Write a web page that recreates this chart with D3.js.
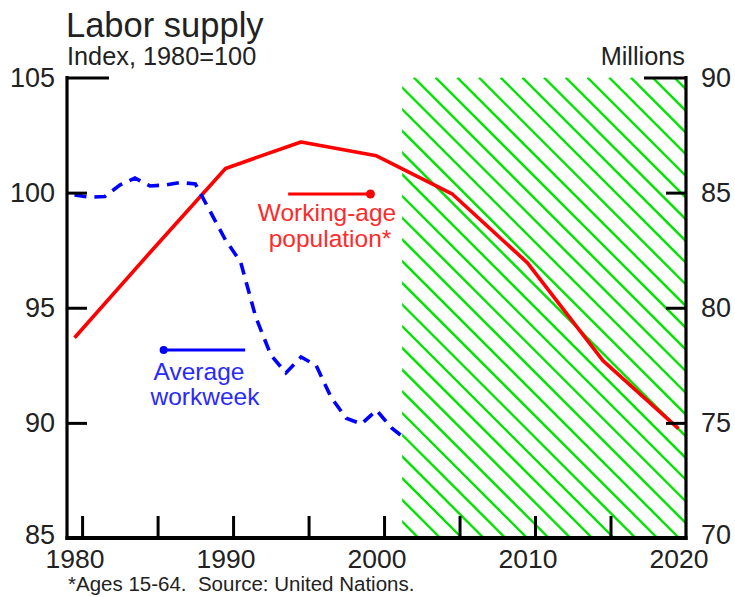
<!DOCTYPE html>
<html>
<head>
<meta charset="utf-8">
<script src="https://cdn.jsdelivr.net/npm/d3@7"></script>
<style>
  html, body { margin: 0; padding: 0; background: #fff; }
  text { font-family: "Liberation Sans", Arial, sans-serif; }
</style>
</head>
<body>
<svg id="chart" width="735" height="597"></svg>
<script>
// ---------- data ----------
const workweekYears = [1980,1981,1982,1983,1984,1985,1986,1987,1988,1989,1990,1991,1992,1993,1994,1995,1996,1997,1998,1999,2000,2001,2002];
const workweekIndex = [99.9,99.8,99.83,100.33,100.63,100.29,100.33,100.44,100.38,99.16,97.94,96.99,94.6,92.95,92.17,92.86,92.5,91.1,90.2,89.95,90.55,89.78,89.26];

const popYears = [1980,1985,1990,1995,2000,2005,2010,2015,2020];
const popMillions = [78.7,82.4,86.05,87.2,86.6,84.95,81.95,77.7,74.75];

const forecastStart = 2001.7;
const forecastEnd = 2020.5;

const leftTicks = [85,90,95,100,105];
const rightTicks = [70,75,80,85,90];
const xLabelYears = [1980,1990,2000,2010,2020];
const xTickYears = [1980.5,1985.5,1990.5,1995.5,2000.5,2005.5,2010.5,2015.5];

// ---------- layout ----------
const svg = d3.select("#chart");
const L = 67, R = 686, T = 77.5, B = 538;
const x = d3.scaleLinear().domain([1979.5, 2020.5]).range([L, R]);
const yL = d3.scaleLinear().domain([85, 105]).range([B, T]);
const yR = d3.scaleLinear().domain([70, 90]).range([B, T]);
const FONT = "Liberation Sans, Arial, sans-serif";
const TXT = "#222";

// ---------- hatch (forecast region) ----------
const hx0 = x(forecastStart), hx1 = x(forecastEnd);
svg.append("clipPath").attr("id", "hclip")
  .append("rect").attr("x", hx0).attr("y", T).attr("width", hx1 - hx0).attr("height", B - T);
const step = 21.7, phase = 336.3;
const cMin = hx0 - B, cMax = hx1 - T;
const kStart = Math.floor((cMin - phase) / step), kEnd = Math.ceil((cMax - phase) / step);
const cs = d3.range(kStart, kEnd + 1).map(k => phase + k * step);
svg.append("g").attr("clip-path", "url(#hclip)")
  .selectAll("line").data(cs).join("line")
  .attr("x1", c => c + T).attr("y1", T)
  .attr("x2", c => c + B).attr("y2", B)
  .attr("stroke", "#00e400").attr("stroke-width", 2.4);

// ---------- series ----------
const popLine = d3.line().x(d => x(d[0])).y(d => yR(d[1]));
svg.append("path")
  .datum(popYears.map((yr, i) => [yr, popMillions[i]]))
  .attr("d", popLine).attr("fill", "none")
  .attr("stroke", "#ff0000").attr("stroke-width", 3.6).attr("stroke-linejoin", "round");

const wwLine = d3.line().x(d => x(d[0])).y(d => yL(d[1]));
svg.append("path")
  .datum(workweekYears.map((yr, i) => [yr, workweekIndex[i]]))
  .attr("d", wwLine).attr("fill", "none")
  .attr("stroke", "#0000ff").attr("stroke-width", 3.6)
  .attr("stroke-dasharray", "12,8");

// ---------- axes ----------
const gx = svg.append("g").attr("transform", `translate(0,${B})`)
  .call(d3.axisBottom(x).tickValues(xTickYears).tickSize(-22).tickFormat(""));
gx.select(".domain").remove();
gx.selectAll("line").attr("stroke", "#000").attr("stroke-width", 3);

const gxl = svg.append("g").attr("transform", `translate(0,${B})`)
  .call(d3.axisBottom(x).tickValues(xLabelYears).tickSize(0).tickPadding(11).tickFormat(d3.format("d")));
gxl.select(".domain").remove();
gxl.selectAll("text").attr("font-size", 26.5).attr("fill", TXT).attr("font-family", FONT);

const gl = svg.append("g").attr("transform", `translate(${L},0)`)
  .call(d3.axisLeft(yL).tickValues(leftTicks).tickSize(-20).tickPadding(12).tickFormat(d3.format("d")));
gl.select(".domain").remove();
gl.selectAll("line").attr("stroke", "#000").attr("stroke-width", 3);
gl.selectAll(".tick").filter(d => d === 105).select("line").attr("x2", 42);
gl.selectAll("text").attr("font-size", 27).attr("fill", TXT).attr("font-family", FONT);
gl.selectAll(".tick").filter(d => d === 85).select("text").attr("dy", "0.22em");

const gr = svg.append("g").attr("transform", `translate(${R},0)`)
  .call(d3.axisRight(yR).tickValues(rightTicks).tickSize(-20).tickPadding(15).tickFormat(d3.format("d")));
gr.select(".domain").remove();
gr.selectAll("line").attr("stroke", "#000").attr("stroke-width", 3);
gr.selectAll(".tick").filter(d => d === 90).select("line").attr("x2", -42);
gr.selectAll("text").attr("font-size", 27).attr("fill", TXT).attr("font-family", FONT);
gr.selectAll(".tick").filter(d => d === 70).select("text").attr("dy", "0.22em");

// frame lines (left, right, bottom)
svg.append("line").attr("x1", L).attr("x2", L).attr("y1", T - 1.5).attr("y2", B + 2)
  .attr("stroke", "#000").attr("stroke-width", 3.2);
svg.append("line").attr("x1", R).attr("x2", R).attr("y1", T - 1.5).attr("y2", B + 2)
  .attr("stroke", "#000").attr("stroke-width", 3.2);
svg.append("line").attr("x1", L - 1.5).attr("x2", R + 1.5).attr("y1", B).attr("y2", B)
  .attr("stroke", "#000").attr("stroke-width", 4);

// ---------- titles ----------
svg.append("text").attr("x", 66).attr("y", 37).attr("font-size", 34.5).attr("fill", TXT).text("Labor supply");
svg.append("text").attr("x", 67).attr("y", 65).attr("font-size", 25.3).attr("fill", TXT).text("Index, 1980=100");
svg.append("text").attr("x", 685).attr("y", 65).attr("text-anchor", "end").attr("font-size", 25.3).attr("fill", TXT).text("Millions");
svg.append("text").attr("x", 68).attr("y", 591).attr("font-size", 20.5).attr("fill", TXT)
  .text("*Ages 15-64.\u00a0\u00a0Source: United Nations.");

// ---------- annotations ----------
const redArrow = {x0: 1994.15, x1: 1999.6, v: 99.94};
svg.append("line").attr("x1", x(redArrow.x0)).attr("x2", x(redArrow.x1))
  .attr("y1", yL(redArrow.v)).attr("y2", yL(redArrow.v))
  .attr("stroke", "#ff0000").attr("stroke-width", 3);
svg.append("circle").attr("cx", x(redArrow.x1)).attr("cy", yL(redArrow.v)).attr("r", 4.5).attr("fill", "#ff0000");
svg.append("text").attr("x", 327).attr("y", 221).attr("text-anchor", "middle").attr("font-size", 24.5).attr("fill", "#ff2a2a").text("Working-age");
svg.append("text").attr("x", 330).attr("y", 247).attr("text-anchor", "middle").attr("font-size", 24.5).attr("fill", "#ff2a2a").text("population*");

const blueArrow = {x0: 1991.3, x1: 1985.9, v: 93.17};
svg.append("line").attr("x1", x(blueArrow.x0)).attr("x2", x(blueArrow.x1))
  .attr("y1", yL(blueArrow.v)).attr("y2", yL(blueArrow.v))
  .attr("stroke", "#0000ff").attr("stroke-width", 3);
svg.append("circle").attr("cx", x(blueArrow.x1)).attr("cy", yL(blueArrow.v)).attr("r", 4).attr("fill", "#0000ff");
svg.append("text").attr("x", 199).attr("y", 380).attr("text-anchor", "middle").attr("font-size", 24.5).attr("fill", "#2a2aff").text("Average");
svg.append("text").attr("x", 205).attr("y", 405).attr("text-anchor", "middle").attr("font-size", 24.5).attr("fill", "#2a2aff").text("workweek");
</script>
</body>
</html>
